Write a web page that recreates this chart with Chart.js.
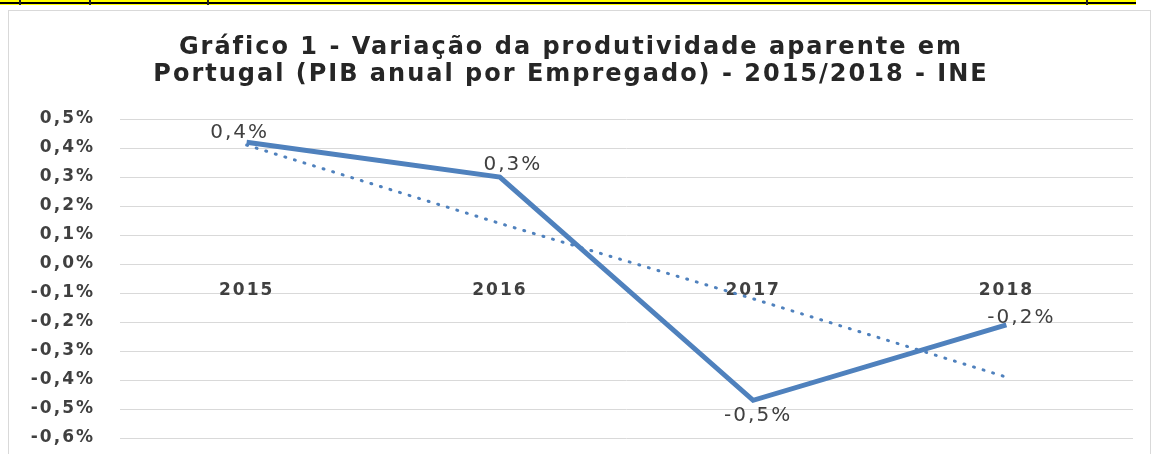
<!DOCTYPE html>
<html>
<head>
<meta charset="utf-8">
<script src="https://cdn.jsdelivr.net/npm/chart.js@4/dist/chart.umd.min.js"></script>
<style>
  html, body { margin: 0; padding: 0; background: #fff; }
  body { width: 1151px; height: 454px; position: relative; overflow: hidden; }
  #band { position: absolute; left: 0; top: 0; width: 1136px; height: 5px; background: #ffff00; }
  #band .rule { position: absolute; left: 0; top: 2px; width: 100%; height: 2px; background: #000; }
  #band .tick { position: absolute; top: 0; width: 2px; height: 5px; background: #222; }
  #frame { position: absolute; left: 8px; top: 10px; width: 1141px; height: 444px;
           border: 1px solid #d9d9d9; border-bottom: none; }
  #frame canvas { display: block; }
</style>
</head>
<body>
<div id="band">
  <div class="rule"></div>
  <div class="tick" style="left:19px"></div>
  <div class="tick" style="left:89px"></div>
  <div class="tick" style="left:207px"></div>
  <div class="tick" style="left:1086px"></div>
</div>
<div id="frame"><canvas id="chart" width="1141" height="443"></canvas></div>
<script>
// data (percent)
const years = ['2015', '2016', '2017', '2018'];
const productivity = [0.42, 0.30, -0.47, -0.21];
const trend = [0.41, 0.14, -0.12, -0.39];
const yTicks = [0.5, 0.4, 0.3, 0.2, 0.1, 0.0, -0.1, -0.2, -0.3, -0.4, -0.5, -0.6];

const blue = '#4f81bd';
const textColor = '#404040';

const fmt = v => {
  if (Math.abs(v) < 1e-9) v = 0;
  return v.toFixed(1).replace('.', ',') + '%';
};

// where each value label sits relative to its point
const labelOffsets = [[-7, -9], [13, -12], [5, 15], [15, -7]];

// the original text is drawn rather wide, so space letters out a bit
const wideText = {
  id: 'wideText',
  beforeInit(chart) { chart.ctx.letterSpacing = '2px'; },
  beforeDraw(chart) { chart.ctx.letterSpacing = '2px'; }
};

const valueLabels = {
  id: 'valueLabels',
  afterDatasetsDraw(chart) {
    const meta = chart.getDatasetMeta(0);
    const ctx = chart.ctx;
    ctx.save();
    ctx.font = '20px "DejaVu Sans"';
    ctx.fillStyle = textColor;
    ctx.textAlign = 'center';
    ctx.textBaseline = 'middle';
    meta.data.forEach((pt, i) => {
      const [dx, dy] = labelOffsets[i];
      ctx.fillText(fmt(productivity[i]), pt.x + dx, pt.y + dy);
    });
    ctx.restore();
  }
};

new Chart(document.getElementById('chart'), {
  type: 'line',
  data: {
    labels: years,
    datasets: [{
      label: 'Produtividade',
      data: productivity,
      borderColor: blue,
      borderWidth: 5,
      pointRadius: 0,
      tension: 0,
      borderJoinStyle: 'miter'
    }, {
      label: 'Tendência',
      data: trend,
      borderColor: blue,
      borderWidth: 3,
      borderDash: [1, 9],
      borderCapStyle: 'round',
      pointRadius: 0,
      tension: 0
    }]
  },
  options: {
    responsive: false,
    animation: false,
    layout: { padding: { left: 0, right: 17, top: 0, bottom: 16 } },
    plugins: {
      legend: { display: false },
      tooltip: { enabled: false },
      title: {
        display: true,
        text: ['Gráfico 1 - Variação da produtividade aparente em',
               'Portugal (PIB anual por Empregado) - 2015/2018 - INE'],
        color: '#262626',
        font: { family: '"DejaVu Sans"', size: 24, weight: 'bold', lineHeight: 1.125 },
        padding: { top: 23, bottom: 31 }
      }
    },
    scales: {
      x: {
        position: { y: 0 },
        offset: true,
        afterFit: scale => { scale.height = 0; },
        grid: { display: false },
        border: { display: false },
        ticks: {
          color: textColor,
          padding: 8,
          font: { family: '"DejaVu Sans"', size: 17, weight: 'bold' }
        }
      },
      y: {
        min: -0.6,
        max: 0.5,
        afterBuildTicks: scale => { scale.ticks = yTicks.map(v => ({ value: v })); },
        afterFit: scale => { scale.width = 111; },
        grid: { color: '#d9d9d9', lineWidth: 1, drawTicks: true, tickLength: 25, tickColor: 'rgba(0,0,0,0)' },
        border: { display: false },
        ticks: {
          color: textColor,
          padding: 0,
          callback: v => fmt(v),
          font: { family: '"DejaVu Sans"', size: 17, weight: 'bold' }
        }
      }
    }
  },
  plugins: [wideText, valueLabels]
});
</script>
</body>
</html>
